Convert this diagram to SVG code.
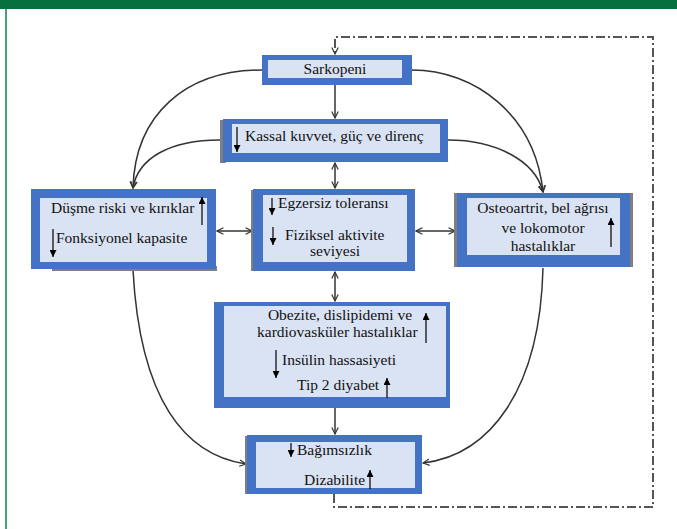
<svg xmlns="http://www.w3.org/2000/svg" width="677" height="529" viewBox="0 0 677 529">
<style>
.outer{fill:#4472C4}
.inner{fill:#DAE3F3}
.shadow{fill:#7f7f7f}
.t{font-family:"Liberation Serif","Times New Roman","DejaVu Serif",serif;font-size:15.5px;fill:#111}
.m{text-anchor:middle}
.c{fill:none;stroke:#333;stroke-width:1.5}
.dd{fill:none;stroke:#555;stroke-width:2;stroke-dasharray:9 3 2 3}
.ta{stroke:#000;stroke-width:1.2;marker-end:url(#fa)}
</style>
<defs>
<marker id="oa" viewBox="0 0 10 10" refX="9" refY="5" markerWidth="8" markerHeight="8" orient="auto-start-reverse" markerUnits="userSpaceOnUse"><path d="M1,1 L9,5 L1,9" fill="none" stroke="#333" stroke-width="1.5"/></marker>
<marker id="fa" viewBox="0 0 10 10" refX="10" refY="5" markerWidth="7" markerHeight="7" orient="auto" markerUnits="userSpaceOnUse"><path d="M0,0 L10,5 L0,10 z" fill="#000"/></marker>
</defs>
<rect x="0" y="0" width="677" height="9" fill="#077040"/>
<rect x="5" y="9" width="2" height="520" fill="#4a9f77"/>

<g id="connectors">
<path class="dd" d="M334,494 L334,507 L653,507 L653,37 L335,37 L335,54" marker-end="url(#oa)"/>
<line class="c" x1="335" y1="85" x2="335" y2="118" marker-end="url(#oa)"/>
<line class="c" x1="335" y1="163" x2="335" y2="188" marker-start="url(#oa)" marker-end="url(#oa)"/>
<line class="c" x1="335" y1="272" x2="335" y2="301" marker-start="url(#oa)" marker-end="url(#oa)"/>
<line class="c" x1="335" y1="408" x2="335" y2="434" marker-end="url(#oa)"/>
<line class="c" x1="217" y1="231" x2="252" y2="231" marker-start="url(#oa)" marker-end="url(#oa)"/>
<line class="c" x1="416" y1="231" x2="455" y2="231" marker-start="url(#oa)" marker-end="url(#oa)"/>
<path class="c" d="M262,70 C185,70 135,115 133,188" marker-end="url(#oa)"/>
<path class="c" d="M220,140 C170,140 138,158 133,188" marker-end="url(#oa)"/>
<path class="c" d="M412,70 C475,70 535,115 543,192" marker-end="url(#oa)"/>
<path class="c" d="M448,140 C495,140 535,160 543,192" marker-end="url(#oa)"/>
<path class="c" d="M133,270 C140,400 185,455 246,464" marker-end="url(#oa)"/>
<path class="c" d="M543,268 C540,390 490,455 423,463" marker-end="url(#oa)"/>
</g>

<g id="sarkopeni">
<rect class="outer" x="262" y="55" width="150" height="30"/>
<rect class="inner" x="268" y="60" width="134" height="18"/>
<text class="t m" x="335" y="74">Sarkopeni</text>
</g>

<g id="kassal">
<rect class="shadow" x="220" y="120" width="6" height="43"/>
<rect class="outer" x="223" y="119" width="225" height="43"/>
<rect class="inner" x="232" y="124" width="208" height="29"/>
<line class="ta" x1="237" y1="127" x2="237" y2="152"/>
<text class="t" x="245" y="141">Kassal kuvvet, güç ve direnç</text>
</g>

<g id="dusme">
<rect class="shadow" x="52" y="266" width="165" height="5"/>
<rect class="outer" x="31" y="189" width="185" height="80"/>
<rect class="inner" x="40" y="198" width="167" height="64"/>
<text class="t" x="51" y="213">Düşme riski ve kırıklar</text>
<line class="ta" x1="202" y1="225" x2="202" y2="197"/>
<line class="ta" x1="53" y1="229" x2="53" y2="257"/>
<text class="t" x="56" y="243">Fonksiyonel kapasite</text>
</g>

<g id="egzersiz">
<rect class="shadow" x="251" y="190" width="6" height="81"/>
<rect class="outer" x="253" y="189" width="162" height="82"/>
<rect class="inner" x="263" y="195" width="144" height="67"/>
<line class="ta" x1="272" y1="198" x2="272" y2="215"/>
<text class="t" x="278" y="208">Egzersiz toleransı</text>
<line class="ta" x1="273" y1="227" x2="273" y2="245"/>
<text class="t" x="285" y="240">Fiziksel aktivite</text>
<text class="t m" x="335" y="256">seviyesi</text>
</g>

<g id="osteoartrit">
<rect class="shadow" x="454" y="193" width="179" height="74"/>
<rect class="outer" x="457" y="193" width="173" height="74"/>
<rect class="inner" x="467" y="198" width="153" height="57"/>
<text class="t m" x="543" y="213">Osteoartrit, bel ağrısı</text>
<text class="t m" x="543" y="233">ve lokomotor</text>
<text class="t m" x="543" y="251">hastalıklar</text>
<line class="ta" x1="611" y1="247" x2="611" y2="218"/>
</g>

<g id="obezite">
<rect class="outer" x="214" y="302" width="236" height="106"/>
<rect class="inner" x="224" y="306" width="222" height="91"/>
<text class="t m" x="340" y="320">Obezite, dislipidemi ve</text>
<text class="t" x="257" y="337">kardiovasküler hastalıklar</text>
<line class="ta" x1="426" y1="343" x2="426" y2="313"/>
<line class="ta" x1="276" y1="350" x2="276" y2="378"/>
<text class="t" x="282" y="365">Insülin hassasiyeti</text>
<text class="t" x="297" y="390">Tip 2 diyabet</text>
<line class="ta" x1="387" y1="398" x2="387" y2="378"/>
</g>

<g id="bagimsizlik">
<rect class="shadow" x="245" y="436" width="5" height="58"/>
<rect class="outer" x="247" y="435" width="175" height="59"/>
<rect class="inner" x="256" y="442" width="159" height="46"/>
<line class="ta" x1="291" y1="443" x2="291" y2="457"/>
<text class="t" x="297" y="455">Bağımsızlık</text>
<text class="t" x="304" y="485">Dizabilite</text>
<line class="ta" x1="370" y1="489" x2="370" y2="470"/>
</g>
</svg>
